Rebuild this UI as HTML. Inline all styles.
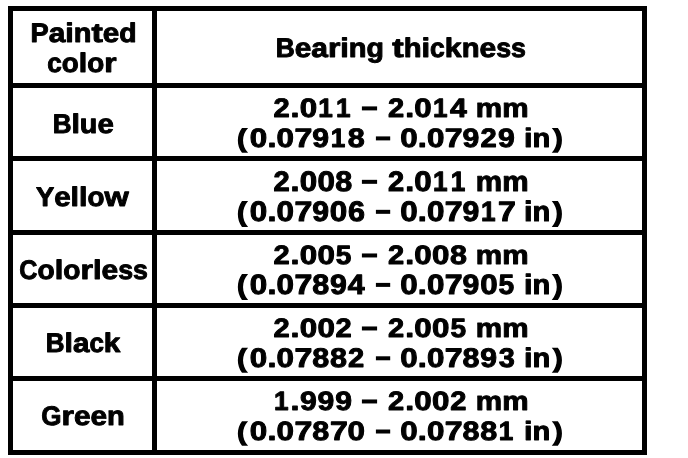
<!DOCTYPE html>
<html><head><meta charset="utf-8"><title>Bearing thickness</title>
<style>
html,body{margin:0;padding:0;background:#fff;}
svg{display:block}
text{text-rendering:geometricPrecision;font-family:"Liberation Sans",sans-serif;font-weight:bold;font-size:25px;fill:#000;stroke:#000;stroke-width:0.9px;stroke-linejoin:round}
</style></head><body>
<svg role="img" aria-label="Painted color versus bearing thickness table" width="688" height="458" viewBox="0 0 688 458">
<rect x="0" y="0" width="688" height="458" fill="#fff"/>
<g fill="#000" shape-rendering="crispEdges">
<rect x="8" y="6" width="639" height="5"/>
<rect x="8" y="83" width="639" height="5"/>
<rect x="8" y="156" width="639" height="5"/>
<rect x="8" y="230" width="639" height="5"/>
<rect x="8" y="303" width="639" height="5"/>
<rect x="8" y="376" width="639" height="5"/>
<rect x="8" y="450" width="639" height="5"/>
<rect x="8" y="6" width="5" height="449"/>
<rect x="152" y="6" width="5" height="449"/>
<rect x="642" y="6" width="5" height="449"/>
</g>
<g style="opacity:0.999">
<text transform="translate(30.59,42) scale(1.091,1.075)">P</text>
<text transform="translate(48.79,42) scale(1.193,1.075)">a</text>
<text transform="translate(65.37,42) scale(1.222,1.075)">i</text>
<text transform="translate(73.86,42) scale(1.157,1.075)">n</text>
<text transform="translate(91.53,42) scale(1.360,1.075)">t</text>
<text transform="translate(102.85,42) scale(1.185,1.075)">e</text>
<text transform="translate(119.34,42) scale(1.136,1.075)">d</text>
<text transform="translate(47.32,72) scale(1.046,1.075)">c</text>
<text transform="translate(61.87,72) scale(1.113,1.075)">o</text>
<text transform="translate(78.86,72) scale(1.218,1.075)">l</text>
<text transform="translate(87.32,72) scale(1.113,1.075)">o</text>
<text transform="translate(104.32,72) scale(1.264,1.075)">r</text>
<text transform="translate(275.74,57) scale(1.052,1.075)">B</text>
<text transform="translate(294.73,57) scale(1.190,1.075)">e</text>
<text transform="translate(311.27,57) scale(1.197,1.075)">a</text>
<text transform="translate(327.92,57) scale(1.273,1.075)">r</text>
<text transform="translate(340.31,57) scale(1.227,1.075)">i</text>
<text transform="translate(348.83,57) scale(1.162,1.075)">n</text>
<text transform="translate(366.57,57) scale(1.141,1.075)">g</text>
<text transform="translate(392.21,57) scale(1.374,1.075)">t</text>
<text transform="translate(403.64,57) scale(1.169,1.075)">h</text>
<text transform="translate(421.50,57) scale(1.235,1.075)">i</text>
<text transform="translate(430.07,57) scale(1.061,1.075)">c</text>
<text transform="translate(444.82,57) scale(1.210,1.075)">k</text>
<text transform="translate(461.64,57) scale(1.169,1.075)">n</text>
<text transform="translate(479.50,57) scale(1.198,1.075)">e</text>
<text transform="translate(496.15,57) scale(1.070,1.075)">s</text>
<text transform="translate(511.02,57) scale(1.070,1.075)">s</text>
<text transform="translate(52.65,133) scale(1.040,1.075)">B</text>
<text transform="translate(71.43,133) scale(1.214,1.075)">l</text>
<text transform="translate(79.86,133) scale(1.149,1.075)">u</text>
<text transform="translate(97.41,133) scale(1.177,1.075)">e</text>
<text transform="translate(35.90,206) scale(1.094,1.075)">Y</text>
<text transform="translate(54.15,206) scale(1.182,1.075)">e</text>
<text transform="translate(70.59,206) scale(1.219,1.075)">l</text>
<text transform="translate(79.06,206) scale(1.219,1.075)">l</text>
<text transform="translate(87.52,206) scale(1.114,1.075)">o</text>
<text transform="translate(104.53,206) scale(1.246,1.075)">w</text>
<text transform="translate(19.30,279) scale(1.005,1.075)">C</text>
<text transform="translate(37.45,279) scale(1.128,1.075)">o</text>
<text transform="translate(54.67,279) scale(1.234,1.075)">l</text>
<text transform="translate(63.25,279) scale(1.128,1.075)">o</text>
<text transform="translate(80.47,279) scale(1.281,1.075)">r</text>
<text transform="translate(92.93,279) scale(1.234,1.075)">l</text>
<text transform="translate(101.51,279) scale(1.197,1.075)">e</text>
<text transform="translate(118.16,279) scale(1.069,1.075)">s</text>
<text transform="translate(133.02,279) scale(1.069,1.075)">s</text>
<text transform="translate(45.75,352) scale(1.039,1.075)">B</text>
<text transform="translate(64.51,352) scale(1.212,1.075)">l</text>
<text transform="translate(72.93,352) scale(1.183,1.075)">a</text>
<text transform="translate(89.38,352) scale(1.041,1.075)">c</text>
<text transform="translate(103.85,352) scale(1.188,1.075)">k</text>
<text transform="translate(41.28,425) scale(1.040,1.075)">G</text>
<text transform="translate(61.51,425) scale(1.275,1.075)">r</text>
<text transform="translate(73.91,425) scale(1.191,1.075)">e</text>
<text transform="translate(90.47,425) scale(1.191,1.075)">e</text>
<text transform="translate(107.04,425) scale(1.163,1.075)">n</text>
<text transform="translate(273.43,117) scale(1.164,1.068)">2</text>
<text transform="translate(290.50,117) scale(1.295,1.068)">.</text>
<text transform="translate(299.71,117) scale(1.252,1.068)">0</text>
<text transform="translate(318.36,117) scale(1.047,1.068)">1</text>
<text transform="translate(336.08,117) scale(1.047,1.068)">1</text>
<text transform="translate(388.09,117) scale(1.164,1.068)">2</text>
<text transform="translate(405.15,117) scale(1.295,1.068)">.</text>
<text transform="translate(414.36,117) scale(1.252,1.068)">0</text>
<text transform="translate(433.01,117) scale(1.047,1.068)">1</text>
<text transform="translate(449.90,117) scale(1.212,1.068)">4</text>
<text transform="translate(475.84,117) scale(1.186,1.068)">m</text>
<text transform="translate(502.21,117) scale(1.186,1.068)">m</text>
<text transform="translate(249.86,147) scale(1.254,1.068)">0</text>
<text transform="translate(267.40,147) scale(1.297,1.068)">.</text>
<text transform="translate(276.62,147) scale(1.254,1.068)">0</text>
<text transform="translate(294.39,147) scale(1.283,1.068)">7</text>
<text transform="translate(312.29,147) scale(1.209,1.068)">9</text>
<text transform="translate(330.80,147) scale(1.048,1.068)">1</text>
<text transform="translate(347.80,147) scale(1.221,1.068)">8</text>
<text transform="translate(400.18,147) scale(1.254,1.068)">0</text>
<text transform="translate(417.71,147) scale(1.297,1.068)">.</text>
<text transform="translate(426.93,147) scale(1.254,1.068)">0</text>
<text transform="translate(444.70,147) scale(1.283,1.068)">7</text>
<text transform="translate(462.61,147) scale(1.209,1.068)">9</text>
<text transform="translate(480.62,147) scale(1.166,1.068)">2</text>
<text transform="translate(498.10,147) scale(1.209,1.068)">9</text>
<text transform="translate(524.00,147) scale(1.229,1.068)">i</text>
<text transform="translate(532.54,147) scale(1.164,1.068)">n</text>
<text transform="translate(273.43,191) scale(1.164,1.125)">2</text>
<text transform="translate(290.50,191) scale(1.295,1.125)">.</text>
<text transform="translate(299.71,191) scale(1.252,1.125)">0</text>
<text transform="translate(317.43,191) scale(1.252,1.125)">0</text>
<text transform="translate(335.34,191) scale(1.219,1.125)">8</text>
<text transform="translate(388.09,191) scale(1.164,1.125)">2</text>
<text transform="translate(405.15,191) scale(1.295,1.125)">.</text>
<text transform="translate(414.36,191) scale(1.252,1.125)">0</text>
<text transform="translate(433.01,191) scale(1.047,1.125)">1</text>
<text transform="translate(450.74,191) scale(1.047,1.125)">1</text>
<text transform="translate(475.84,191) scale(1.186,1.125)">m</text>
<text transform="translate(502.21,191) scale(1.186,1.125)">m</text>
<text transform="translate(249.86,221) scale(1.254,1.125)">0</text>
<text transform="translate(267.40,221) scale(1.297,1.125)">.</text>
<text transform="translate(276.62,221) scale(1.254,1.125)">0</text>
<text transform="translate(294.39,221) scale(1.283,1.125)">7</text>
<text transform="translate(312.29,221) scale(1.209,1.125)">9</text>
<text transform="translate(329.86,221) scale(1.254,1.125)">0</text>
<text transform="translate(347.90,221) scale(1.219,1.125)">6</text>
<text transform="translate(400.18,221) scale(1.254,1.125)">0</text>
<text transform="translate(417.71,221) scale(1.297,1.125)">.</text>
<text transform="translate(426.93,221) scale(1.254,1.125)">0</text>
<text transform="translate(444.70,221) scale(1.283,1.125)">7</text>
<text transform="translate(462.61,221) scale(1.209,1.125)">9</text>
<text transform="translate(481.11,221) scale(1.048,1.125)">1</text>
<text transform="translate(497.94,221) scale(1.283,1.125)">7</text>
<text transform="translate(524.00,221) scale(1.229,1.125)">i</text>
<text transform="translate(532.54,221) scale(1.164,1.125)">n</text>
<text transform="translate(273.43,264) scale(1.164,1.062)">2</text>
<text transform="translate(290.50,264) scale(1.295,1.062)">.</text>
<text transform="translate(299.71,264) scale(1.252,1.062)">0</text>
<text transform="translate(317.43,264) scale(1.252,1.062)">0</text>
<text transform="translate(335.84,264) scale(1.124,1.062)">5</text>
<text transform="translate(388.09,264) scale(1.164,1.062)">2</text>
<text transform="translate(405.15,264) scale(1.295,1.062)">.</text>
<text transform="translate(414.36,264) scale(1.252,1.062)">0</text>
<text transform="translate(432.08,264) scale(1.252,1.062)">0</text>
<text transform="translate(449.99,264) scale(1.219,1.062)">8</text>
<text transform="translate(475.84,264) scale(1.186,1.062)">m</text>
<text transform="translate(502.21,264) scale(1.186,1.062)">m</text>
<text transform="translate(249.86,294) scale(1.254,1.119)">0</text>
<text transform="translate(267.40,294) scale(1.297,1.119)">.</text>
<text transform="translate(276.62,294) scale(1.254,1.119)">0</text>
<text transform="translate(294.39,294) scale(1.283,1.119)">7</text>
<text transform="translate(312.30,294) scale(1.221,1.119)">8</text>
<text transform="translate(330.04,294) scale(1.209,1.119)">9</text>
<text transform="translate(347.71,294) scale(1.214,1.119)">4</text>
<text transform="translate(400.18,294) scale(1.254,1.119)">0</text>
<text transform="translate(417.71,294) scale(1.297,1.119)">.</text>
<text transform="translate(426.93,294) scale(1.254,1.119)">0</text>
<text transform="translate(444.70,294) scale(1.283,1.119)">7</text>
<text transform="translate(462.61,294) scale(1.209,1.119)">9</text>
<text transform="translate(480.18,294) scale(1.254,1.119)">0</text>
<text transform="translate(498.62,294) scale(1.126,1.119)">5</text>
<text transform="translate(524.00,294) scale(1.229,1.119)">i</text>
<text transform="translate(532.54,294) scale(1.164,1.119)">n</text>
<text transform="translate(273.43,337) scale(1.164,1.062)">2</text>
<text transform="translate(290.50,337) scale(1.295,1.062)">.</text>
<text transform="translate(299.71,337) scale(1.252,1.062)">0</text>
<text transform="translate(317.43,337) scale(1.252,1.062)">0</text>
<text transform="translate(335.60,337) scale(1.164,1.062)">2</text>
<text transform="translate(388.09,337) scale(1.164,1.062)">2</text>
<text transform="translate(405.15,337) scale(1.295,1.062)">.</text>
<text transform="translate(414.36,337) scale(1.252,1.062)">0</text>
<text transform="translate(432.08,337) scale(1.252,1.062)">0</text>
<text transform="translate(450.50,337) scale(1.124,1.062)">5</text>
<text transform="translate(475.84,337) scale(1.186,1.062)">m</text>
<text transform="translate(502.21,337) scale(1.186,1.062)">m</text>
<text transform="translate(249.86,367) scale(1.254,1.079)">0</text>
<text transform="translate(267.40,367) scale(1.297,1.079)">.</text>
<text transform="translate(276.62,367) scale(1.254,1.079)">0</text>
<text transform="translate(294.39,367) scale(1.283,1.079)">7</text>
<text transform="translate(312.30,367) scale(1.221,1.079)">8</text>
<text transform="translate(330.05,367) scale(1.221,1.079)">8</text>
<text transform="translate(348.06,367) scale(1.166,1.079)">2</text>
<text transform="translate(400.18,367) scale(1.254,1.079)">0</text>
<text transform="translate(417.71,367) scale(1.297,1.079)">.</text>
<text transform="translate(426.93,367) scale(1.254,1.079)">0</text>
<text transform="translate(444.70,367) scale(1.283,1.079)">7</text>
<text transform="translate(462.62,367) scale(1.221,1.079)">8</text>
<text transform="translate(480.36,367) scale(1.209,1.079)">9</text>
<text transform="translate(498.66,367) scale(1.154,1.079)">3</text>
<text transform="translate(524.00,367) scale(1.229,1.079)">i</text>
<text transform="translate(532.54,367) scale(1.164,1.079)">n</text>
<text transform="translate(273.92,410) scale(1.047,1.062)">1</text>
<text transform="translate(290.50,410) scale(1.295,1.062)">.</text>
<text transform="translate(299.89,410) scale(1.207,1.062)">9</text>
<text transform="translate(317.61,410) scale(1.207,1.062)">9</text>
<text transform="translate(335.33,410) scale(1.207,1.062)">9</text>
<text transform="translate(388.09,410) scale(1.164,1.062)">2</text>
<text transform="translate(405.15,410) scale(1.295,1.062)">.</text>
<text transform="translate(414.36,410) scale(1.252,1.062)">0</text>
<text transform="translate(432.08,410) scale(1.252,1.062)">0</text>
<text transform="translate(450.25,410) scale(1.164,1.062)">2</text>
<text transform="translate(475.84,410) scale(1.186,1.062)">m</text>
<text transform="translate(502.21,410) scale(1.186,1.062)">m</text>
<text transform="translate(249.86,440) scale(1.254,1.057)">0</text>
<text transform="translate(267.40,440) scale(1.297,1.057)">.</text>
<text transform="translate(276.62,440) scale(1.254,1.057)">0</text>
<text transform="translate(294.39,440) scale(1.283,1.057)">7</text>
<text transform="translate(312.30,440) scale(1.221,1.057)">8</text>
<text transform="translate(329.88,440) scale(1.283,1.057)">7</text>
<text transform="translate(347.61,440) scale(1.254,1.057)">0</text>
<text transform="translate(400.18,440) scale(1.254,1.057)">0</text>
<text transform="translate(417.71,440) scale(1.297,1.057)">.</text>
<text transform="translate(426.93,440) scale(1.254,1.057)">0</text>
<text transform="translate(444.70,440) scale(1.283,1.057)">7</text>
<text transform="translate(462.62,440) scale(1.221,1.057)">8</text>
<text transform="translate(480.36,440) scale(1.221,1.057)">8</text>
<text transform="translate(498.86,440) scale(1.048,1.057)">1</text>
<text transform="translate(524.00,440) scale(1.229,1.057)">i</text>
<text transform="translate(532.54,440) scale(1.164,1.057)">n</text>
<g fill="#000"><rect x="361.90" y="106.40" width="15.20" height="4"/>
<rect x="375.90" y="136.40" width="14.30" height="4"/>
<rect x="361.90" y="179.83" width="15.20" height="4"/>
<rect x="375.90" y="209.83" width="14.30" height="4"/>
<rect x="361.90" y="253.46" width="15.20" height="4"/>
<rect x="375.90" y="282.89" width="14.30" height="4"/>
<rect x="361.90" y="326.46" width="15.20" height="4"/>
<rect x="375.90" y="356.29" width="14.30" height="4"/>
<rect x="361.90" y="399.46" width="15.20" height="4"/>
<rect x="375.90" y="429.51" width="14.30" height="4"/>
<path transform="translate(237.9,147) scale(1,1.000)" d="M4.1-19H10.2C3.5-12 3.5-1.3 10.2 5.75H4.1C-1.4-1.3-1.4-12 4.1-19Z"/>
<path transform="translate(551.85,147) scale(1,1.000)" d="M6-19H-0.1C6.6-12 6.6-1.3-0.1 5.75H6C11.5-1.3 11.5-12 6-19Z"/>
<path transform="translate(237.9,221) scale(1,1.053)" d="M4.1-19H10.2C3.5-12 3.5-1.3 10.2 5.75H4.1C-1.4-1.3-1.4-12 4.1-19Z"/>
<path transform="translate(551.85,221) scale(1,1.053)" d="M6-19H-0.1C6.6-12 6.6-1.3-0.1 5.75H6C11.5-1.3 11.5-12 6-19Z"/>
<path transform="translate(237.9,294) scale(1,1.048)" d="M4.1-19H10.2C3.5-12 3.5-1.3 10.2 5.75H4.1C-1.4-1.3-1.4-12 4.1-19Z"/>
<path transform="translate(551.85,294) scale(1,1.048)" d="M6-19H-0.1C6.6-12 6.6-1.3-0.1 5.75H6C11.5-1.3 11.5-12 6-19Z"/>
<path transform="translate(237.9,367) scale(1,1.010)" d="M4.1-19H10.2C3.5-12 3.5-1.3 10.2 5.75H4.1C-1.4-1.3-1.4-12 4.1-19Z"/>
<path transform="translate(551.85,367) scale(1,1.010)" d="M6-19H-0.1C6.6-12 6.6-1.3-0.1 5.75H6C11.5-1.3 11.5-12 6-19Z"/>
<path transform="translate(237.9,440) scale(1,0.990)" d="M4.1-19H10.2C3.5-12 3.5-1.3 10.2 5.75H4.1C-1.4-1.3-1.4-12 4.1-19Z"/>
<path transform="translate(551.85,440) scale(1,0.990)" d="M6-19H-0.1C6.6-12 6.6-1.3-0.1 5.75H6C11.5-1.3 11.5-12 6-19Z"/></g>
</g>
</svg>
</body></html>
